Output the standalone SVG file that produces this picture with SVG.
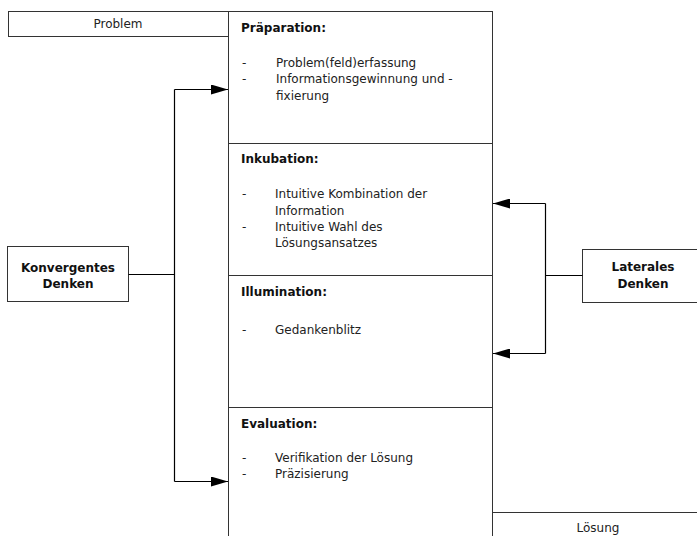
<svg xmlns="http://www.w3.org/2000/svg" width="697" height="536" viewBox="0 0 697 536">
<defs>
<marker id="ah" markerWidth="17" markerHeight="10" refX="17" refY="5" orient="auto" markerUnits="userSpaceOnUse">
<path d="M0,0 L17,5 L0,10 Z" fill="#000"/>
</marker>
<style>
.box{fill:#fff;stroke:#333;stroke-width:1}
.t{font-family:"DejaVu Sans",sans-serif;font-size:12px;fill:#222}
.b{font-family:"DejaVu Sans",sans-serif;font-size:12px;font-weight:bold;fill:#111}
.c{stroke:#000;stroke-width:1.2;fill:none}
</style>
</defs>
<rect width="697" height="536" fill="#fff"/>
<g id="problem">
<rect class="box" x="8.5" y="11.5" width="220" height="25"/>
<text class="t" x="118" y="28" text-anchor="middle">Problem</text>
</g>
<g id="loesung">
<rect class="box" x="492.5" y="512.5" width="210" height="30"/>
<text class="t" x="598" y="532" text-anchor="middle">Lösung</text>
</g>
<g id="praeparation">
<rect class="box" x="228.5" y="11.5" width="264" height="132"/>
<text class="b" x="241" y="32">Präparation:</text>
<text class="t" x="242" y="67">-</text><text class="t" x="276" y="67">Problem(feld)erfassung</text>
<text class="t" x="242" y="83">-</text><text class="t" x="276" y="83">Informationsgewinnung und -</text>
<text class="t" x="276" y="100">fixierung</text>
</g>
<g id="inkubation">
<rect class="box" x="228.5" y="143.5" width="264" height="132"/>
<text class="b" x="241" y="163">Inkubation:</text>
<text class="t" x="242" y="198">-</text><text class="t" x="275" y="198">Intuitive Kombination der</text>
<text class="t" x="275" y="215">Information</text>
<text class="t" x="242" y="231">-</text><text class="t" x="275" y="231">Intuitive Wahl des</text>
<text class="t" x="275" y="247">Lösungsansatzes</text>
</g>
<g id="illumination">
<rect class="box" x="228.5" y="275.5" width="264" height="132"/>
<text class="b" x="241" y="296">Illumination:</text>
<text class="t" x="242" y="334">-</text><text class="t" x="275" y="334">Gedankenblitz</text>
</g>
<g id="evaluation">
<rect class="box" x="228.5" y="407.5" width="264" height="140"/>
<text class="b" x="241" y="428">Evaluation:</text>
<text class="t" x="242" y="462">-</text><text class="t" x="275" y="462">Verifikation der Lösung</text>
<text class="t" x="242" y="478">-</text><text class="t" x="275" y="478">Präzisierung</text>
</g>
<g id="konvergent">
<rect class="box" x="7.5" y="246.5" width="121" height="55"/>
<text class="b" x="68" y="272" text-anchor="middle">Konvergentes</text>
<text class="b" x="68" y="288" text-anchor="middle">Denken</text>
</g>
<g id="lateral">
<rect class="box" x="582.5" y="249.5" width="120" height="53"/>
<text class="b" x="643" y="271" text-anchor="middle">Laterales</text>
<text class="b" x="643" y="288" text-anchor="middle">Denken</text>
</g>
<g id="connectors">
<path class="c" d="M128.5,274.5 H174.5"/>
<path class="c" d="M174.5,89.5 V481.5"/>
<path class="c" d="M174.5,89.5 H228" marker-end="url(#ah)"/>
<path class="c" d="M174.5,481.5 H228" marker-end="url(#ah)"/>
<path class="c" d="M582.5,275.5 H545.5"/>
<path class="c" d="M545.5,203.5 V353.5"/>
<path class="c" d="M545.5,203.5 H493" marker-end="url(#ah)"/>
<path class="c" d="M545.5,353.5 H493" marker-end="url(#ah)"/>
</g>
</svg>
